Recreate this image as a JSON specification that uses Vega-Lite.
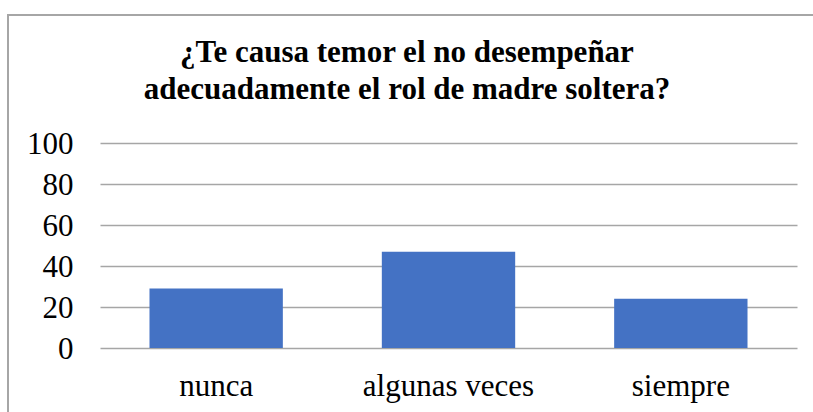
{
  "$schema": "https://vega.github.io/schema/vega-lite/v6.json",
  "autosize": {"type": "none"},
  "padding": {"left": 8, "top": 15, "right": 0, "bottom": 0},
  "width": 810,
  "height": 400,
  "background": "white",
  "config": {
    "view": {"stroke": "#a6a6a6", "strokeWidth": 2},
    "font": "Liberation Serif"
  },
  "title": {
    "text": ["¿Te causa temor el no desempeñar", "adecuadamente el rol de madre soltera?"],
    "font": "Liberation Serif",
    "fontSize": 31,
    "fontWeight": "bold",
    "color": "black",
    "lineHeight": 37,
    "anchor": "middle",
    "offset": -91,
    "dx": -6
  },
  "data": {
    "values": [
      {"respuesta": "nunca", "valor": 29},
      {"respuesta": "algunas veces", "valor": 47},
      {"respuesta": "siempre", "valor": 24}
    ]
  },
  "mark": {"type": "bar", "color": "#4472C4"},
  "encoding": {
    "x": {
      "field": "respuesta",
      "type": "nominal",
      "sort": null,
      "scale": {"range": [92, 789], "paddingInner": 0.426, "paddingOuter": 0.213},
      "axis": {
        "title": null,
        "orient": "bottom",
        "offset": -67,
        "domain": false,
        "ticks": false,
        "tickSize": 0,
        "labelPadding": 23,
        "labelAngle": 0,
        "labelFont": "Liberation Serif",
        "labelFontSize": 31,
        "labelColor": "black",
        "labelBaseline": "top",
        "grid": false
      }
    },
    "y": {
      "field": "valor",
      "type": "quantitative",
      "scale": {"domain": [0, 100], "range": [333, 128], "nice": false, "zero": true},
      "axis": {
        "title": null,
        "orient": "left",
        "offset": -92,
        "values": [0, 20, 40, 60, 80, 100],
        "domain": false,
        "ticks": false,
        "tickSize": 0,
        "labelPadding": 27,
        "labelFont": "Liberation Serif",
        "labelFontSize": 31,
        "labelColor": "black",
        "labelOffset": 1,
        "grid": true,
        "gridColor": "#a6a6a6",
        "gridWidth": 1.5
      }
    }
  }
}
